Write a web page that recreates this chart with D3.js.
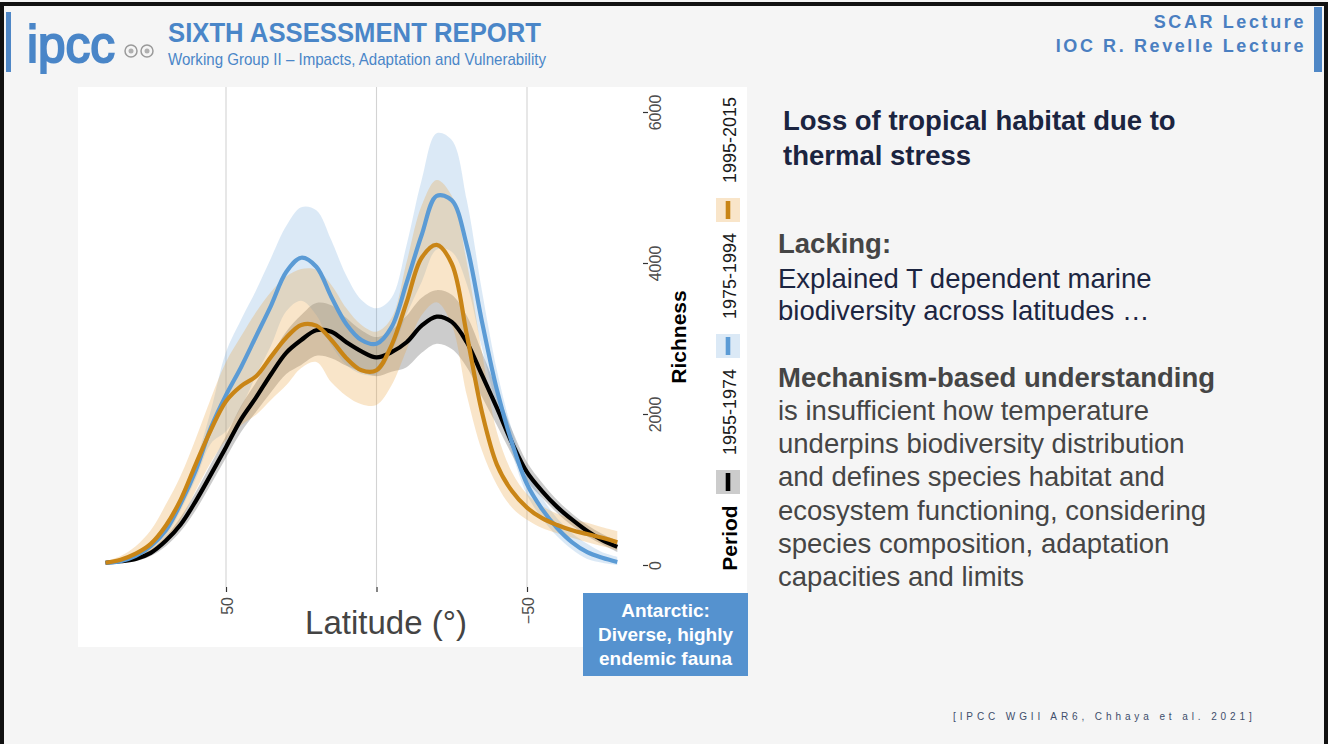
<!DOCTYPE html>
<html>
<head>
<meta charset="utf-8">
<script src="https://cdn.jsdelivr.net/npm/d3@7"></script>
<style>
  body { margin: 0; background: #f5f5f5; }
  svg { display: block; font-family: "Liberation Sans", Arial, sans-serif; }
</style>
</head>
<body>
<svg id="slide" width="1328" height="744"></svg>
<script>
// latitude grid of the smoothed richness curves (deg, north -> south)
const latitude = [90, 85, 80, 75, 70, 65, 60, 55, 50, 45, 40, 35, 30, 25, 20, 15, 10, 5, 0,
  -5, -10, -15, -20, -25, -30, -35, -40, -45, -50, -55, -60, -65, -70, -75, -80];

const periods = ["1955-1974", "1975-1994", "1995-2015"];

// 1955-1974 (black)
const rich1955 = [30, 50, 80, 160, 320, 540, 850, 1200, 1560, 1930, 2220, 2530, 2810, 2980, 3110, 3090, 2950, 2830, 2750,
  2820, 2950, 3170, 3290, 3220, 2950, 2520, 2080, 1620, 1230, 980, 770, 600, 450, 330, 240];
const rich1955Lo = [10, 30, 50, 120, 250, 450, 730, 1070, 1420, 1760, 2030, 2290, 2530, 2650, 2770, 2740, 2640, 2560, 2500,
  2560, 2620, 2810, 2930, 2860, 2620, 2230, 1850, 1460, 1110, 890, 690, 520, 380, 270, 170];
const rich1955Hi = [40, 80, 120, 210, 380, 640, 970, 1340, 1710, 2110, 2420, 2770, 3090, 3310, 3470, 3440, 3270, 3110, 3020,
  3110, 3300, 3540, 3640, 3580, 3300, 2820, 2320, 1790, 1360, 1090, 860, 680, 530, 410, 320];

// 1975-1994 (blue)
const rich1975 = [30, 50, 120, 250, 460, 820, 1260, 1820, 2250, 2620, 3030, 3440, 3880, 4070, 3950, 3550, 3190, 2980, 2930,
  3150, 3740, 4370, 4890, 4830, 4230, 3230, 2320, 1620, 1070, 740, 490, 300, 170, 95, 40];
const rich1975Lo = [5, 20, 75, 215, 385, 730, 1145, 1610, 1770, 2090, 2510, 2910, 3360, 3500, 3310, 2910, 2650, 2530, 2530,
  2820, 3320, 3750, 4180, 4150, 3720, 2880, 2100, 1480, 930, 615, 380, 205, 80, 30, 0];
const rich1975Hi = [50, 90, 170, 290, 560, 930, 1390, 2050, 2820, 3250, 3640, 4070, 4490, 4740, 4700, 4300, 3830, 3510, 3400,
  3540, 4240, 5100, 5720, 5630, 4830, 3640, 2580, 1790, 1230, 890, 620, 420, 280, 170, 110];

// 1995-2015 (orange)
const rich1995 = [30, 70, 150, 280, 520, 870, 1340, 1790, 2170, 2370, 2500, 2760, 3010, 3180, 3170, 2980, 2740, 2580, 2580,
  2910, 3480, 4070, 4240, 3990, 3050, 2030, 1330, 980, 760, 620, 530, 460, 410, 360, 300];
const rich1995Lo = [10, 40, 90, 170, 330, 600, 990, 1360, 1660, 1850, 1990, 2190, 2380, 2610, 2690, 2420, 2240, 2130, 2120,
  2380, 2850, 3310, 3480, 3180, 2250, 1520, 1060, 760, 600, 490, 420, 360, 300, 250, 200];
const rich1995Hi = [50, 120, 250, 460, 800, 1190, 1680, 2210, 2690, 3030, 3350, 3620, 3820, 3920, 3910, 3710, 3400, 3180, 3090,
  3270, 4010, 4760, 5100, 4890, 4010, 2820, 1760, 1230, 940, 780, 680, 610, 560, 500, 450];

const latTicks = [50, 0, -50];
const richTicks = [0, 2000, 4000, 6000];

const lineColors = ["#000000", "#5b9bd5", "#c98516"];
const bandColors = ["#555555", "#5b9bd5", "#e8a33c"];
const bandOpacity = [0.3, 0.22, 0.28];

const series = [
  { period: periods[0], mean: rich1955, lo: rich1955Lo, hi: rich1955Hi },
  { period: periods[1], mean: rich1975, lo: rich1975Lo, hi: rich1975Hi },
  { period: periods[2], mean: rich1995, lo: rich1995Lo, hi: rich1995Hi }
];

const svg = d3.select("#slide");
const blue = "#4a86c8";

/* slide frame and header */
svg.append("rect").attr("width", 1328).attr("height", 744).attr("fill", "#f5f5f5");
svg.append("rect").attr("x", 0).attr("y", 2).attr("width", 1328).attr("height", 4).attr("fill", "#111");
svg.append("rect").attr("x", 0).attr("y", 2).attr("width", 4).attr("height", 742).attr("fill", "#111");
svg.append("rect").attr("x", 1324).attr("y", 2).attr("width", 4).attr("height", 742).attr("fill", "#111");
svg.append("rect").attr("x", 6).attr("y", 12).attr("width", 5).attr("height", 60).attr("fill", "#4f87c6");
svg.append("rect").attr("x", 1314).attr("y", 7).attr("width", 8).attr("height", 65).attr("fill", "#4f87c6");

svg.append("text").attr("x", 27).attr("y", 62).text("ipcc")
  .attr("font-size", 52).attr("fill", blue).attr("stroke", blue).attr("stroke-width", 2)
  .attr("textLength", 88).attr("lengthAdjust", "spacingAndGlyphs");
// WMO / UNEP emblems
[131, 147].forEach(cx => {
  svg.append("circle").attr("cx", cx).attr("cy", 51).attr("r", 6)
    .attr("fill", "none").attr("stroke", "#9a9a9a").attr("stroke-width", 1.5);
  svg.append("circle").attr("cx", cx).attr("cy", 51).attr("r", 2.5).attr("fill", "#b0b0b0");
});
svg.append("text").attr("x", 168).attr("y", 42).text("SIXTH ASSESSMENT REPORT")
  .attr("font-size", 27).attr("font-weight", "bold").attr("fill", blue)
  .attr("textLength", 373).attr("lengthAdjust", "spacingAndGlyphs");
svg.append("text").attr("x", 168).attr("y", 65).text("Working Group II \u2013 Impacts, Adaptation and Vulnerability")
  .attr("font-size", 17).attr("fill", blue)
  .attr("textLength", 378).attr("lengthAdjust", "spacingAndGlyphs");

svg.append("text").attr("x", 1306).attr("y", 28).text("SCAR Lecture")
  .attr("text-anchor", "end").attr("font-size", 18).attr("font-weight", "bold")
  .attr("letter-spacing", 2.6).attr("fill", "#4a7fc1");
svg.append("text").attr("x", 1306).attr("y", 52).text("IOC R. Revelle Lecture")
  .attr("text-anchor", "end").attr("font-size", 18).attr("font-weight", "bold")
  .attr("letter-spacing", 2.6).attr("fill", "#4a7fc1");

/* chart */
const xScale = d3.scaleLinear().domain([50, -50]).range([226, 527]);
const yScale = d3.scaleLinear().domain([0, 6000]).range([565, 112]);

svg.append("rect").attr("x", 78).attr("y", 87).attr("width", 669).attr("height", 560).attr("fill", "#fff");

// vertical grid
svg.append("g").selectAll("line").data(latTicks).enter().append("line")
  .attr("x1", d => xScale(d)).attr("x2", d => xScale(d))
  .attr("y1", 87).attr("y2", 587)
  .attr("stroke", "#d3d3d3").attr("stroke-width", 1.1);

const band = d3.area()
  .x((d, i) => xScale(latitude[i]))
  .y0(d => yScale(d[0]))
  .y1(d => yScale(d[1]))
  .curve(d3.curveCatmullRom);
const line = d3.line()
  .x((d, i) => xScale(latitude[i]))
  .y(d => yScale(d))
  .curve(d3.curveCatmullRom);

const plot = svg.append("g");
series.forEach((s, k) => {
  plot.append("path")
    .datum(s.lo.map((v, i) => [v, s.hi[i]]))
    .attr("d", band)
    .attr("fill", bandColors[k]).attr("fill-opacity", bandOpacity[k]);
});
series.forEach((s, k) => {
  plot.append("path")
    .datum(s.mean)
    .attr("d", line)
    .attr("fill", "none").attr("stroke", lineColors[k]).attr("stroke-width", 4.2);
});

// latitude axis (labels turned like the rotated figure)
const xAxis = svg.append("g").attr("transform", "translate(0,587)")
  .call(d3.axisBottom(xScale).tickValues(latTicks).tickSize(5).tickFormat(d3.format("d")));
xAxis.select(".domain").remove();
xAxis.selectAll("line").attr("stroke", "#333").attr("stroke-width", 1.2);
xAxis.selectAll("text")
  .attr("y", 0).attr("dy", 0)
  .attr("transform", "translate(6,10) rotate(-90)")
  .attr("text-anchor", "end")
  .attr("font-size", 16).attr("fill", "#4d4d4d")
  .attr("font-family", "Liberation Sans, Arial, sans-serif");

// richness axis on the right
const yAxis = svg.append("g").attr("transform", "translate(643,0)")
  .call(d3.axisRight(yScale).tickValues(richTicks).tickSize(5).tickFormat(d3.format("d")));
yAxis.select(".domain").remove();
yAxis.selectAll("line").attr("stroke", "#333").attr("stroke-width", 1.2);
yAxis.selectAll("text")
  .attr("x", 0).attr("dy", 0)
  .attr("transform", "translate(18,0) rotate(-90)")
  .attr("text-anchor", "middle")
  .attr("font-size", 16).attr("fill", "#4d4d4d")
  .attr("font-family", "Liberation Sans, Arial, sans-serif");

svg.append("text").text("Richness")
  .attr("transform", "translate(686,337) rotate(-90)")
  .attr("text-anchor", "middle").attr("font-size", 21).attr("font-weight", "bold").attr("fill", "#000");

// legend
const legend = svg.append("g");
legend.append("text").text("Period")
  .attr("transform", "translate(737,538) rotate(-90)")
  .attr("text-anchor", "middle").attr("font-size", 21).attr("font-weight", "bold").attr("fill", "#000");
const keyY = [482, 346, 210];
series.forEach((s, k) => {
  legend.append("rect").attr("x", 716).attr("y", keyY[k] - 12).attr("width", 24).attr("height", 24)
    .attr("fill", bandColors[k]).attr("fill-opacity", bandOpacity[k]);
  legend.append("line").attr("x1", 728).attr("x2", 728)
    .attr("y1", keyY[k] - 9).attr("y2", keyY[k] + 9)
    .attr("stroke", lineColors[k]).attr("stroke-width", 4.6);
  legend.append("text").text(s.period)
    .attr("transform", `translate(736,${keyY[k] - 70}) rotate(-90)`)
    .attr("text-anchor", "middle").attr("font-size", 18).attr("fill", "#1a1a1a");
});

// axis title sits on its own white box (hides the 0 label)
svg.append("rect").attr("x", 290).attr("y", 596).attr("width", 190).attr("height", 50).attr("fill", "#fff");
svg.append("text").text("Latitude (\u00b0)")
  .attr("x", 386).attr("y", 634).attr("text-anchor", "middle")
  .attr("font-size", 33).attr("fill", "#444");

// Antarctic call-out
svg.append("rect").attr("x", 583).attr("y", 593).attr("width", 165).attr("height", 83).attr("fill", "#5592cf");
["Antarctic:", "Diverse, highly", "endemic fauna"].forEach((t, i) => {
  svg.append("text").text(t)
    .attr("x", 665.5).attr("y", 617 + i * 24).attr("text-anchor", "middle")
    .attr("font-size", 19).attr("font-weight", "bold").attr("fill", "#fff");
});

/* right-hand text */
const head = ["Loss of tropical habitat due to", "thermal stress"];
head.forEach((t, i) => {
  svg.append("text").text(t).attr("x", 783).attr("y", 130 + i * 35)
    .attr("font-size", 27.5).attr("font-weight", "bold").attr("fill", "#1b2440");
});
svg.append("text").text("Lacking:").attr("x", 778).attr("y", 253)
  .attr("font-size", 27.5).attr("font-weight", "bold").attr("fill", "#454545");
["Explained T dependent marine", "biodiversity across latitudes \u2026"].forEach((t, i) => {
  svg.append("text").text(t).attr("x", 778).attr("y", 288 + i * 32)
    .attr("font-size", 27.5).attr("fill", "#1c2541");
});
svg.append("text").text("Mechanism-based understanding").attr("x", 778).attr("y", 387)
  .attr("font-size", 27.5).attr("font-weight", "bold").attr("fill", "#454545");
["is insufficient how temperature", "underpins biodiversity distribution", "and defines species habitat and",
  "ecosystem functioning, considering", "species composition, adaptation", "capacities and limits"].forEach((t, i) => {
  svg.append("text").text(t).attr("x", 778).attr("y", 420 + i * 33.2)
    .attr("font-size", 27.5).attr("fill", "#454545");
});

svg.append("text").text("[IPCC WGII AR6, Chhaya et al. 2021]")
  .attr("x", 953).attr("y", 720).attr("font-size", 10).attr("letter-spacing", 3.9).attr("fill", "#3d4d6b");
</script>
</body>
</html>
